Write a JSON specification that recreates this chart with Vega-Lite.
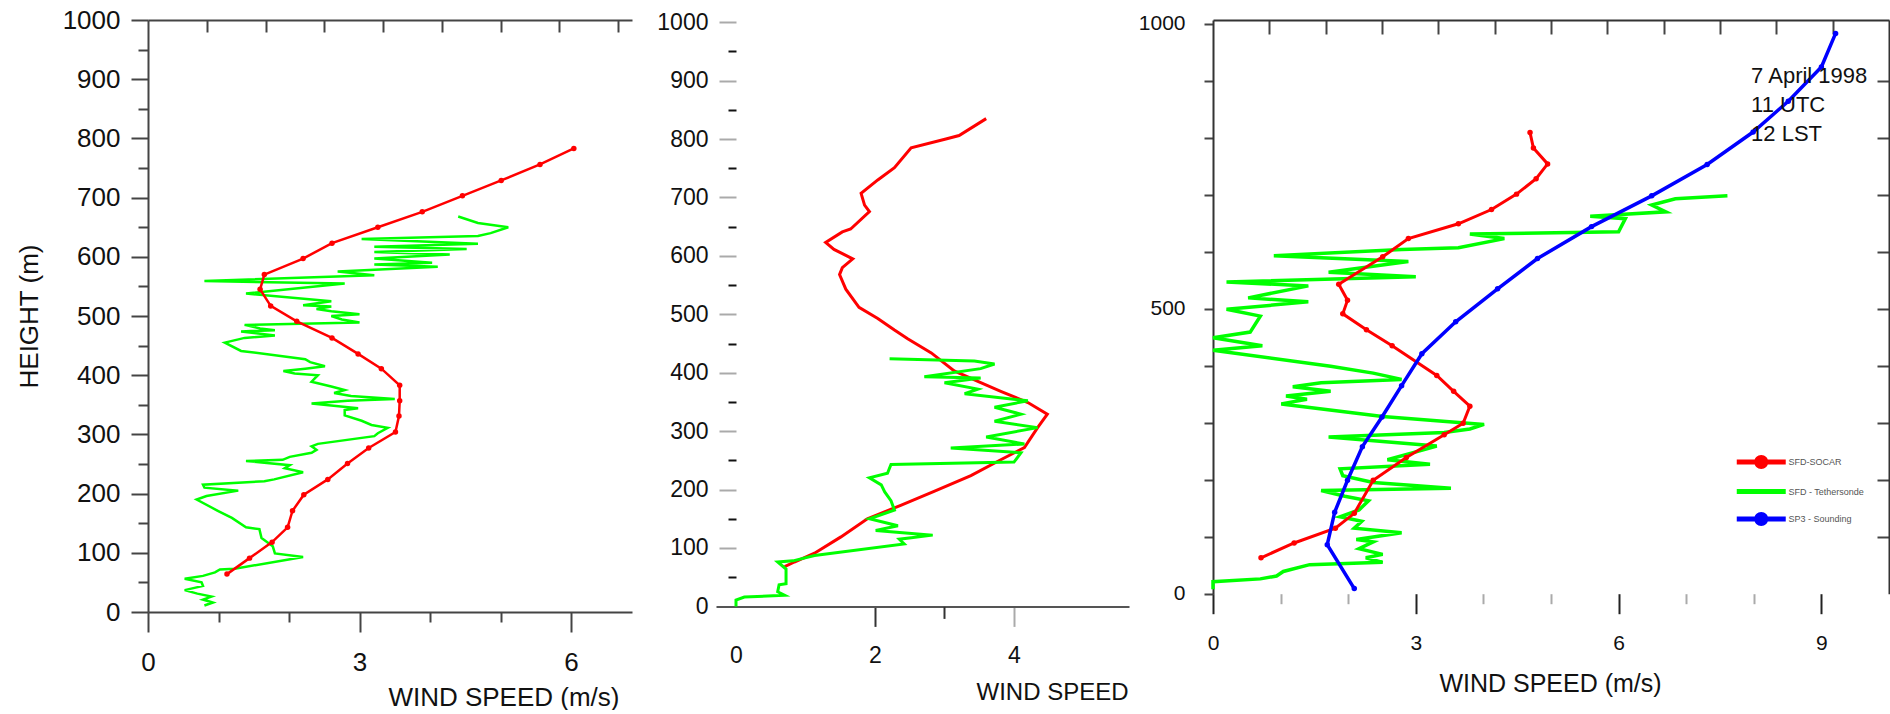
{
  "$schema": "https://vega.github.io/schema/vega-lite/v6.json",
  "autosize": {"type": "pad"},
  "padding": {"left": 16, "top": 7, "right": 0, "bottom": 0},
  "background": "white",
  "bounds": "flush",
  "spacing": 84,
  "config": {
    "view": {"stroke": null},
    "font": "Liberation Sans",
    "axis": {"grid": false, "labelFont": "Liberation Sans", "titleFont": "Liberation Sans", "titleFontWeight": "normal", "labelColor": "#111", "titleColor": "#111", "domainColor": "#444", "tickColor": "#444", "domainWidth": 2, "tickWidth": 2, "labelOverlap": false, "labelFlush": false, "format": "d"},
    "legend": {"orient": "none", "legendX": 539.25, "legendY": 433, "direction": "vertical", "title": null, "padding": 0,
      "symbolSize": 306, "rowPadding": 13.5, "labelFontSize": 9, "labelColor": "#555555", "labelOffset": 18.25, "labelFont": "Liberation Sans"}
  },
  "resolve": {"scale": {"color": "independent"}},
  "datasets": {
    "p1s": [{"speed":1.12,"height":64},{"speed":1.44,"height":91},{"speed":1.76,"height":118},{"speed":1.98,"height":143},{"speed":2.05,"height":171},{"speed":2.21,"height":198},{"speed":2.55,"height":224},{"speed":2.83,"height":251},{"speed":3.13,"height":277},{"speed":3.51,"height":304},{"speed":3.56,"height":331},{"speed":3.57,"height":357},{"speed":3.57,"height":383},{"speed":3.31,"height":411},{"speed":2.98,"height":436},{"speed":2.61,"height":463},{"speed":2.11,"height":491},{"speed":1.74,"height":517},{"speed":1.59,"height":545},{"speed":1.65,"height":570},{"speed":2.2,"height":597},{"speed":2.61,"height":623},{"speed":3.26,"height":650},{"speed":3.89,"height":676},{"speed":4.46,"height":703},{"speed":5.01,"height":729},{"speed":5.56,"height":756},{"speed":6.04,"height":783}],
    "p1t": [{"speed":0.8,"height":11},{"speed":0.92,"height":16},{"speed":0.78,"height":21},{"speed":0.9,"height":26},{"speed":0.7,"height":31},{"speed":0.52,"height":37},{"speed":0.78,"height":44},{"speed":0.76,"height":50},{"speed":0.52,"height":56},{"speed":0.78,"height":61},{"speed":0.95,"height":67},{"speed":1.02,"height":72},{"speed":1.23,"height":73},{"speed":2.2,"height":93},{"speed":1.8,"height":99},{"speed":1.77,"height":111},{"speed":1.61,"height":125},{"speed":1.58,"height":140},{"speed":1.39,"height":143},{"speed":1.19,"height":159},{"speed":0.99,"height":171},{"speed":0.69,"height":190},{"speed":0.83,"height":196},{"speed":1.28,"height":205},{"speed":0.8,"height":210},{"speed":0.78,"height":215},{"speed":1.65,"height":221},{"speed":1.79,"height":224},{"speed":2.2,"height":236},{"speed":1.94,"height":243},{"speed":2.01,"height":248},{"speed":1.39,"height":255},{"speed":1.91,"height":257},{"speed":2.01,"height":262},{"speed":2.32,"height":269},{"speed":2.39,"height":274},{"speed":2.32,"height":280},{"speed":2.41,"height":284},{"speed":3.21,"height":297},{"speed":3.26,"height":302},{"speed":3.4,"height":311},{"speed":3.17,"height":316},{"speed":3.03,"height":323},{"speed":2.79,"height":332},{"speed":2.79,"height":341},{"speed":2.98,"height":344},{"speed":2.32,"height":352},{"speed":2.83,"height":357},{"speed":3.5,"height":360},{"speed":2.88,"height":365},{"speed":2.64,"height":370},{"speed":2.79,"height":375},{"speed":2.6,"height":381},{"speed":2.32,"height":389},{"speed":2.41,"height":400},{"speed":2.08,"height":403},{"speed":1.92,"height":407},{"speed":2.23,"height":411},{"speed":2.51,"height":415},{"speed":2.3,"height":422},{"speed":2.23,"height":427},{"speed":1.32,"height":441},{"speed":1.09,"height":455},{"speed":1.37,"height":463},{"speed":1.8,"height":467},{"speed":1.32,"height":474},{"speed":1.8,"height":476},{"speed":1.59,"height":479},{"speed":1.37,"height":485},{"speed":3.0,"height":489},{"speed":2.75,"height":494},{"speed":2.6,"height":500},{"speed":3.0,"height":503},{"speed":2.6,"height":508},{"speed":2.39,"height":512},{"speed":2.6,"height":516},{"speed":2.2,"height":518},{"speed":2.6,"height":525},{"speed":1.39,"height":538},{"speed":2.79,"height":555},{"speed":0.8,"height":559},{"speed":3.21,"height":569},{"speed":2.69,"height":575},{"speed":4.11,"height":583},{"speed":3.21,"height":587},{"speed":4.03,"height":590},{"speed":3.21,"height":597},{"speed":4.28,"height":604},{"speed":3.21,"height":608},{"speed":4.52,"height":613},{"speed":3.21,"height":617},{"speed":4.68,"height":622},{"speed":3.03,"height":630},{"speed":4.68,"height":635},{"speed":4.86,"height":640},{"speed":5.11,"height":650},{"speed":4.68,"height":657},{"speed":4.4,"height":668}],
    "p2s": [{"speed":0.7,"height":68},{"speed":0.84,"height":76},{"speed":1.13,"height":91},{"speed":1.51,"height":119},{"speed":1.89,"height":150},{"speed":2.37,"height":173},{"speed":2.85,"height":197},{"speed":3.38,"height":224},{"speed":3.81,"height":251},{"speed":4.15,"height":272},{"speed":4.34,"height":306},{"speed":4.48,"height":329},{"speed":4.2,"height":349},{"speed":3.81,"height":368},{"speed":3.48,"height":385},{"speed":3.14,"height":403},{"speed":2.81,"height":434},{"speed":2.47,"height":458},{"speed":2.28,"height":473},{"speed":2.04,"height":493},{"speed":1.77,"height":512},{"speed":1.58,"height":543},{"speed":1.49,"height":568},{"speed":1.53,"height":580},{"speed":1.68,"height":595},{"speed":1.41,"height":611},{"speed":1.29,"height":623},{"speed":1.53,"height":641},{"speed":1.65,"height":646},{"speed":1.92,"height":676},{"speed":1.85,"height":687},{"speed":1.8,"height":707},{"speed":2.04,"height":730},{"speed":2.28,"height":751},{"speed":2.52,"height":785},{"speed":3.02,"height":800},{"speed":3.21,"height":806},{"speed":3.6,"height":835}],
    "p2t": [{"speed":0.0,"height":0},{"speed":0.0,"height":11},{"speed":0.12,"height":16},{"speed":0.7,"height":19},{"speed":0.6,"height":25},{"speed":0.62,"height":37},{"speed":0.72,"height":39},{"speed":0.72,"height":64},{"speed":0.6,"height":76},{"speed":0.82,"height":78},{"speed":1.13,"height":87},{"speed":2.42,"height":107},{"speed":2.35,"height":115},{"speed":2.83,"height":122},{"speed":2.01,"height":130},{"speed":2.33,"height":138},{"speed":1.92,"height":150},{"speed":2.28,"height":165},{"speed":2.23,"height":181},{"speed":2.14,"height":196},{"speed":2.09,"height":208},{"speed":1.92,"height":220},{"speed":2.18,"height":228},{"speed":2.23,"height":243},{"speed":4.0,"height":247},{"speed":4.1,"height":263},{"speed":3.09,"height":271},{"speed":4.15,"height":278},{"speed":3.6,"height":290},{"speed":4.34,"height":306},{"speed":3.72,"height":317},{"speed":4.1,"height":329},{"speed":3.72,"height":341},{"speed":4.2,"height":352},{"speed":3.29,"height":364},{"speed":3.48,"height":372},{"speed":3.0,"height":383},{"speed":3.52,"height":391},{"speed":2.71,"height":393},{"speed":3.52,"height":407},{"speed":3.72,"height":415},{"speed":3.43,"height":420},{"speed":2.21,"height":424}],
    "p3s": [{"speed":0.71,"height":63},{"speed":1.2,"height":89},{"speed":1.81,"height":115},{"speed":2.09,"height":141},{"speed":2.37,"height":199},{"speed":2.86,"height":239},{"speed":3.42,"height":279},{"speed":3.7,"height":299},{"speed":3.8,"height":329},{"speed":3.56,"height":355},{"speed":3.31,"height":383},{"speed":2.65,"height":435},{"speed":2.27,"height":463},{"speed":1.92,"height":491},{"speed":1.99,"height":515},{"speed":1.86,"height":543},{"speed":2.51,"height":591},{"speed":2.89,"height":623},{"speed":3.63,"height":649},{"speed":4.12,"height":674},{"speed":4.49,"height":701},{"speed":4.78,"height":728},{"speed":4.95,"height":754},{"speed":4.74,"height":782},{"speed":4.69,"height":809}],
    "p3t": [{"speed":0.0,"height":8},{"speed":0.0,"height":21},{"speed":0.7,"height":26},{"speed":0.94,"height":31},{"speed":1.04,"height":39},{"speed":1.43,"height":51},{"speed":2.51,"height":55},{"speed":2.26,"height":63},{"speed":2.51,"height":69},{"speed":2.16,"height":79},{"speed":2.37,"height":91},{"speed":2.12,"height":95},{"speed":2.79,"height":107},{"speed":2.09,"height":115},{"speed":2.2,"height":127},{"speed":1.88,"height":135},{"speed":2.16,"height":147},{"speed":2.3,"height":163},{"speed":1.95,"height":171},{"speed":1.6,"height":181},{"speed":3.52,"height":185},{"speed":2.37,"height":195},{"speed":1.92,"height":207},{"speed":1.88,"height":219},{"speed":3.21,"height":227},{"speed":2.58,"height":235},{"speed":3.31,"height":259},{"speed":1.71,"height":275},{"speed":3.42,"height":283},{"speed":3.8,"height":289},{"speed":4.01,"height":297},{"speed":2.51,"height":311},{"speed":1.01,"height":333},{"speed":1.39,"height":341},{"speed":1.08,"height":347},{"speed":1.74,"height":355},{"speed":1.18,"height":363},{"speed":1.6,"height":370},{"speed":2.79,"height":376},{"speed":2.37,"height":387},{"speed":1.74,"height":399},{"speed":0.0,"height":427},{"speed":0.73,"height":435},{"speed":0.0,"height":449},{"speed":0.55,"height":459},{"speed":0.7,"height":487},{"speed":0.2,"height":499},{"speed":1.41,"height":512},{"speed":0.52,"height":519},{"speed":1.41,"height":540},{"speed":0.2,"height":547},{"speed":3.0,"height":556},{"speed":1.71,"height":564},{"speed":2.89,"height":583},{"speed":0.9,"height":593},{"speed":2.79,"height":604},{"speed":3.63,"height":607},{"speed":4.31,"height":623},{"speed":3.8,"height":631},{"speed":6.0,"height":635},{"speed":6.1,"height":658},{"speed":5.58,"height":662},{"speed":6.7,"height":670},{"speed":6.49,"height":682},{"speed":6.84,"height":693},{"speed":7.61,"height":698}],
    "p3b": [{"speed":2.09,"height":9},{"speed":1.69,"height":86},{"speed":1.8,"height":143},{"speed":1.99,"height":199},{"speed":2.21,"height":258},{"speed":2.5,"height":310},{"speed":2.79,"height":365},{"speed":3.09,"height":421},{"speed":3.59,"height":477},{"speed":4.21,"height":535},{"speed":4.8,"height":588},{"speed":5.6,"height":644},{"speed":6.49,"height":698},{"speed":7.31,"height":753},{"speed":7.99,"height":810},{"speed":8.51,"height":864},{"speed":9.0,"height":924},{"speed":9.21,"height":983}]
  },
  "hconcat": [
    {
      "width": 484,
      "height": 592,
      "resolve": {"axis": {"x": "independent", "y": "independent"}},
      "layer": [
        {
          "data": {"name": "p1t"},
          "mark": {"type": "line", "color": "#00ff00", "strokeWidth": 2.5},
          "encoding": {
            "x": {"field": "speed", "type": "quantitative", "scale": {"domain": [0, 6.865], "nice": false, "zero": false},
              "axis": {"orient": "top", "values": [0.833, 1.667, 2.5, 3.333, 4.167, 5, 5.833, 6.667], "labels": false, "tickSize": -12, "title": null}},
            "y": {"field": "height", "type": "quantitative", "scale": {"domain": [0, 1000], "nice": false, "zero": false},
              "axis": {"orient": "left", "values": [50,150,250,350,450,550,650,750,850,950], "labels": false, "domain": false, "tickSize": 10, "title": null}},
            "order": {"field": "height"}
          }
        },
        {
          "data": {"name": "p1s"},
          "mark": {"type": "line", "color": "#ff0000", "strokeWidth": 2.5},
          "encoding": {
            "x": {"field": "speed", "type": "quantitative", "scale": {"domain": [0, 6.865], "nice": false, "zero": false},
              "axis": {"orient": "bottom", "values": [0, 3, 6], "tickSize": 20, "labelPadding": 17, "labelFontSize": 26,
                "title": "WIND SPEED (m/s)", "titleFontSize": 26, "titleX": 471, "titleY": 85, "titleAlign": "right", "titleBaseline": "middle"}},
            "y": {"field": "height", "type": "quantitative", "scale": {"domain": [0, 1000], "nice": false, "zero": false},
              "axis": {"orient": "left", "values": [0,100,200,300,400,500,600,700,800,900,1000], "tickSize": 17, "labelPadding": 11, "labelFontSize": 26,
                "title": "HEIGHT (m)", "titleFontSize": 26, "titleX": -119, "titleY": 296, "titleAngle": -90, "titleAlign": "center", "titleBaseline": "middle"}},
            "order": {"field": "height"}
          }
        },
        {
          "data": {"name": "p1s"},
          "mark": {"type": "point", "filled": true, "size": 30, "color": "#ff0000", "opacity": 1},
          "encoding": {
            "x": {"field": "speed", "type": "quantitative", "scale": {"domain": [0, 6.865], "nice": false, "zero": false},
              "axis": {"orient": "bottom", "values": [1, 2, 4, 5], "labels": false, "domain": false, "tickSize": 10, "title": null}},
            "y": {"field": "height", "type": "quantitative", "scale": {"domain": [0, 1000], "nice": false, "zero": false}, "axis": null}
          }
        }
      ]
    },
    {
      "width": 413,
      "height": 586.4,
      "resolve": {"axis": {"x": "independent", "y": "independent"}},
      "layer": [
        {
          "data": {"name": "p2s"},
          "mark": {"type": "line", "color": "#ff0000", "strokeWidth": 3},
          "encoding": {
            "x": {"field": "speed", "type": "quantitative", "scale": {"domain": [-0.2878, 5.655], "nice": false, "zero": false},
              "axis": {"orient": "bottom", "values": [0, 2, 4], "tickSize": 20, "labelPadding": 18, "labelFontSize": 23, "domainColor": "#555",
                "tickColor": {"condition": {"test": "datum.value === 4", "value": "#aaaaaa"}, "value": "#333333"},
                "tickOpacity": {"condition": {"test": "datum.value === 0", "value": 0}, "value": 1},
                "title": "WIND SPEED", "titleFontSize": 24, "titleX": 412, "titleY": 86, "titleAlign": "right", "titleBaseline": "middle"}},
            "y": {"field": "height", "type": "quantitative", "scale": {"domain": [0, 1003.8], "nice": false, "zero": false},
              "axis": {"orient": "left", "offset": -20, "domain": false, "values": [0,100,200,300,400,500,600,700,800,900,1000],
                "tickSize": 17, "labelPadding": 11, "labelFontSize": 23, "tickColor": "#aaaaaa",
                "tickOpacity": {"condition": {"test": "datum.value === 0", "value": 0}, "value": 1},
                "title": null}},
            "order": {"field": "height"}
          }
        },
        {
          "data": {"name": "p2t"},
          "mark": {"type": "line", "color": "#00ff00", "strokeWidth": 3},
          "encoding": {
            "x": {"field": "speed", "type": "quantitative", "scale": {"domain": [-0.2878, 5.655], "nice": false, "zero": false},
              "axis": {"orient": "bottom", "values": [3], "labels": false, "domain": false, "tickSize": 12, "tickColor": "#333333", "title": null}},
            "y": {"field": "height", "type": "quantitative", "scale": {"domain": [0, 1003.8], "nice": false, "zero": false},
              "axis": {"orient": "left", "offset": -20, "domain": false, "values": [50,150,250,350,450,550,650,750,850,950], "labels": false, "tickSize": 8, "tickColor": "#111111", "title": null}},
            "order": {"field": "height"}
          }
        }
      ]
    },
    {
      "width": 676,
      "height": 573.7,
      "resolve": {"axis": {"x": "independent", "y": "independent"}},
      "layer": [
        {
          "data": {"name": "p3t"},
          "mark": {"type": "line", "strokeWidth": 3.5},
          "encoding": {
            "x": {"field": "speed", "type": "quantitative", "scale": {"domain": [0, 10], "nice": false, "zero": false},
              "axis": {"orient": "top", "values": [0.833, 1.667, 2.5, 3.333, 4.167, 5, 5.833, 6.667, 7.5, 8.333, 9.167], "labels": false, "tickSize": -14, "title": null, "domainColor": "#333"}},
            "y": {"field": "height", "type": "quantitative", "scale": {"domain": [0, 1006.5], "nice": false, "zero": false},
              "axis": {"orient": "right", "values": [100,200,300,400,500,600,700,800,900], "labels": false, "tickSize": -12, "title": null, "domainColor": "#333"}},
            "color": {"datum": "SFD - Tethersonde", "type": "nominal",
              "scale": {"domain": ["SFD-SOCAR", "SFD - Tethersonde", "SP3 - Sounding"], "range": ["#ff0000", "#00ff00", "#0000ff"]},
              "legend": {"encode": {"symbols": {"update": {
                  "shape": {"signal": "datum.value === 'SFD - Tethersonde' ? 'M-2.8,-0.28H2.8V0.28H-2.8Z' : 'M-2.8,-0.28H2.8V0.28H-2.8Z M-0.8,0A0.8,0.8 0 1,1 0.8,0A0.8,0.8 0 1,1 -0.8,0Z'"},
                  "fill": {"signal": "datum.value === 'SFD-SOCAR' ? '#ff0000' : datum.value === 'SFD - Tethersonde' ? '#00ff00' : '#0000ff'"},
                  "stroke": {"value": "transparent"}, "strokeWidth": {"value": 0}, "opacity": {"value": 1}}}}}},
            "order": {"field": "height"}
          }
        },
        {
          "data": {"name": "p3s"},
          "mark": {"type": "line", "strokeWidth": 3, "point": {"filled": true, "size": 30}},
          "encoding": {
            "x": {"field": "speed", "type": "quantitative", "scale": {"domain": [0, 10], "nice": false, "zero": false},
              "axis": {"orient": "bottom", "values": [0, 3, 6, 9], "domain": false, "tickSize": 20, "labelPadding": 19, "labelFontSize": 21, "tickColor": "#222222",
                "title": "WIND SPEED (m/s)", "titleFontSize": 25, "titleX": 337, "titleY": 90, "titleAlign": "center", "titleBaseline": "middle"}},
            "y": {"field": "height", "type": "quantitative", "scale": {"domain": [0, 1006.5], "nice": false, "zero": false},
              "axis": {"orient": "left", "values": [0,100,200,300,400,500,600,700,800,900,1000], "domainColor": "#333",
                "labelExpr": "datum.value % 500 === 0 ? datum.label : ''", "tickSize": 9, "labelPadding": 19, "labelFontSize": 21, "title": null}},
            "color": {"datum": "SFD-SOCAR", "type": "nominal",
              "scale": {"domain": ["SFD-SOCAR", "SFD - Tethersonde", "SP3 - Sounding"], "range": ["#ff0000", "#00ff00", "#0000ff"]},
              "legend": {"encode": {"symbols": {"update": {
                  "shape": {"signal": "datum.value === 'SFD - Tethersonde' ? 'M-2.8,-0.28H2.8V0.28H-2.8Z' : 'M-2.8,-0.28H2.8V0.28H-2.8Z M-0.8,0A0.8,0.8 0 1,1 0.8,0A0.8,0.8 0 1,1 -0.8,0Z'"},
                  "fill": {"signal": "datum.value === 'SFD-SOCAR' ? '#ff0000' : datum.value === 'SFD - Tethersonde' ? '#00ff00' : '#0000ff'"},
                  "stroke": {"value": "transparent"}, "strokeWidth": {"value": 0}, "opacity": {"value": 1}}}}}},
            "order": {"field": "height"}
          }
        },
        {
          "data": {"name": "p3b"},
          "mark": {"type": "line", "strokeWidth": 3.5, "point": {"filled": true, "size": 30}},
          "encoding": {
            "x": {"field": "speed", "type": "quantitative", "scale": {"domain": [0, 10], "nice": false, "zero": false},
              "axis": {"orient": "bottom", "values": [1, 2, 4, 5, 7, 8], "labels": false, "domain": false, "tickSize": 10, "tickColor": "#aaaaaa", "title": null}},
            "y": {"field": "height", "type": "quantitative", "scale": {"domain": [0, 1006.5], "nice": false, "zero": false}, "axis": null},
            "color": {"datum": "SP3 - Sounding", "type": "nominal",
              "scale": {"domain": ["SFD-SOCAR", "SFD - Tethersonde", "SP3 - Sounding"], "range": ["#ff0000", "#00ff00", "#0000ff"]},
              "legend": {"encode": {"symbols": {"update": {
                  "shape": {"signal": "datum.value === 'SFD - Tethersonde' ? 'M-2.8,-0.28H2.8V0.28H-2.8Z' : 'M-2.8,-0.28H2.8V0.28H-2.8Z M-0.8,0A0.8,0.8 0 1,1 0.8,0A0.8,0.8 0 1,1 -0.8,0Z'"},
                  "fill": {"signal": "datum.value === 'SFD-SOCAR' ? '#ff0000' : datum.value === 'SFD - Tethersonde' ? '#00ff00' : '#0000ff'"},
                  "stroke": {"value": "transparent"}, "strokeWidth": {"value": 0}, "opacity": {"value": 1}}}}}},
            "order": {"field": "height"}
          }
        },
        {
          "data": {"values": [{}]},
          "mark": {"type": "text", "align": "left", "baseline": "top", "fontSize": 22, "lineHeight": 29, "font": "Liberation Sans", "color": "#111111"},
          "encoding": {
            "x": {"datum": 7.96, "type": "quantitative", "scale": {"domain": [0, 10], "nice": false, "zero": false}, "axis": null},
            "y": {"datum": 925, "type": "quantitative", "scale": {"domain": [0, 1006.5], "nice": false, "zero": false}, "axis": null},
            "text": {"value": ["7 April 1998", "11 UTC", "12 LST"]}
          }
        }
      ]
    }
  ]
}
